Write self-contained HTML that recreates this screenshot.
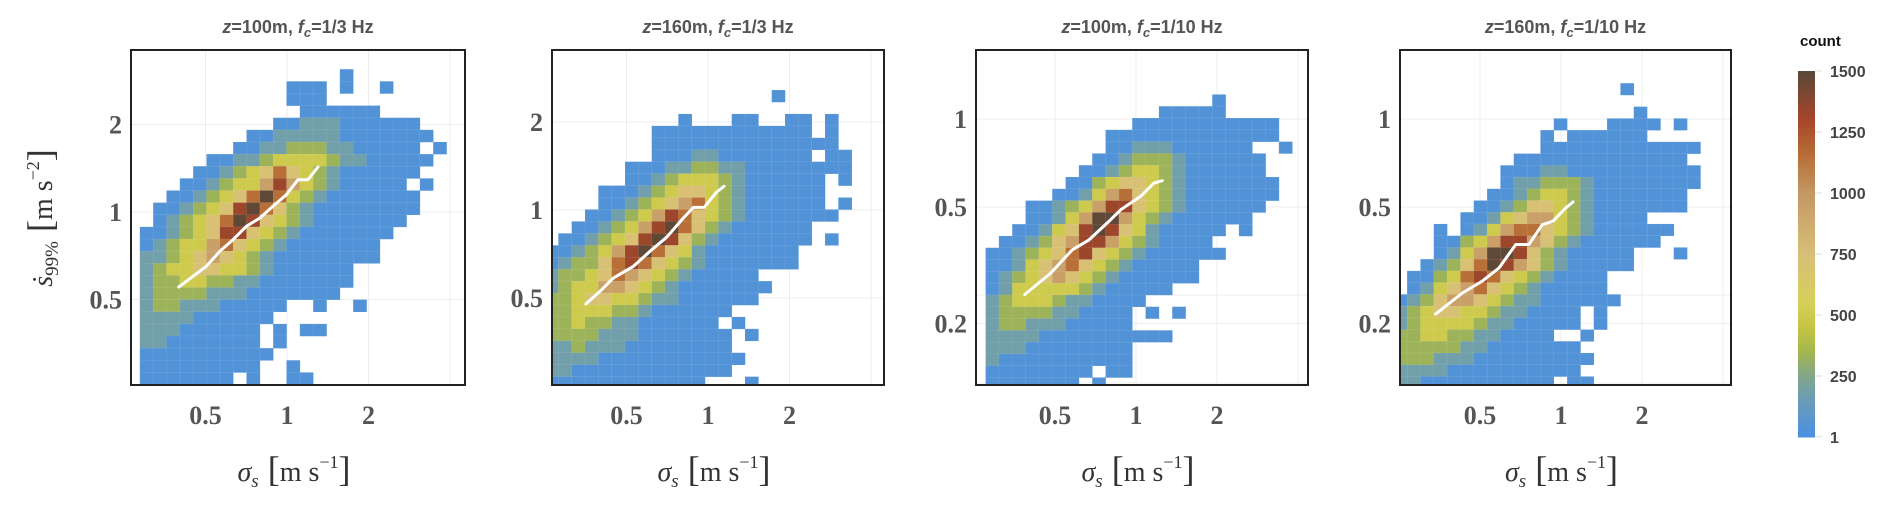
<!DOCTYPE html>
<html><head><meta charset="utf-8">
<style>
html,body{margin:0;padding:0;background:#fff;}
svg{display:block;}
</style></head>
<body>
<svg id="chart" width="1892" height="511" viewBox="0 0 1892 511" xmlns="http://www.w3.org/2000/svg">
<defs id="defs"></defs>
<g id="root"></g>
</svg>
<script>
// ---------- DATA ----------
const xTickValues = [0.5, 1, 2];
const xTickLabels = ["0.5", "1", "2"];
const yTickValuesA = [0.5, 1, 2];
const yTickLabelsA = ["0.5", "1", "2"];
const yTickValuesB = [0.2, 0.5, 1];
const yTickLabelsB = ["0.2", "0.5", "1"];
const colorbarTicks = [1, 250, 500, 750, 1000, 1250, 1500];
const levelCounts = [0, 40, 180, 330, 500, 720, 950, 1150, 1330, 1480];
const panelTitles = [["100m", "1/3 Hz"], ["160m", "1/3 Hz"], ["100m", "1/10 Hz"], ["160m", "1/10 Hz"]];

const xBinStart = [0.286, 0.25, 0.276, 0.239];
const xBinStep = [0.1636, 0.1636, 0.1646, 0.1646];
const yBinStart = [0.255, 0.245, 0.119, 0.120];
const yBinStep = [0.1386, 0.1357, 0.134, 0.1333];

const grid1 = [
"...............1........",
"...........111.1..1.....",
"...........111..........",
"............111111......",
"..........11222111111...",
"........11222221111111..",
".......11223332211111.1.",
".....11223444432211111..",
"....11234575432111111...",
"...11234468643211111.1..",
"..1123457974321111111...",
".11234589753211111111...",
".1234579854321111111....",
"1123458854321111111.....",
"123446754321111111......",
"223456543211111111......",
"2344554432111111........",
"2334433221111111........",
"233332221111111.........",
"23322211111..1..1.......",
"2222111111..............",
"222111111.1.11..........",
"221111111.1.............",
"1111111111..............",
"111111111..1............",
"1111111.1..11..........."];
const grid2 = [
".................1.....",
".......................",
"..........1...11..11.1.",
"........111111111111.1.",
"........11111111111111.",
"........111221111111.11",
"......11122332211111111.",
"......112344432111111.1",
"....11123455432111111..",
"....11234567432111111.1",
"...1123468754321111111.",
"..112346897532111111...",
".1123458985321111111.1.",
"1123468975421111111....",
"1233578754321111111....",
"2334576543211111.......",
"23446654321111111......",
"3345544322111111.......",
"33444332111111.........",
"3343322111111.1........",
"33332221111111.1.......",
"22322211111111.........",
"222211111111111........",
"22111111111111.........",
"111111111111...1......."];
const grid3 = [
".................1.....",
".............11111.....",
"...........11111111111.",
".........1111111111111.",
".........11222111111..1",
"........1123332111111..",
".......11234432111111..",
"......1134554321111111.",
".....11246754321111111.",
"...112346885432111111..",
"...11246996432111111...",
"..1124589854211111.1...",
".1123568864321111......",
"112345785432111111.....",
"1124567543211111.......",
"1234565432111111.......",
"12444443211111.........",
"234443221111...........",
"23333221111.1.1........",
"23322211111............",
"22221111111111.........",
"22211111111............",
"21111111111............",
"11111111.11............",
"1111111.1.............."];
const grid4 = [
".................1.....",
".......................",
"..................1....",
"............1...1111.1.",
"...........1.111111....",
"...........111111111111",
".........1111111111111.",
"........111221111111111",
"........122333211111111",
".......112344321111111.",
"......1123554321111111.",
".....11245664321111....",
"...1.1246775432111111..",
"...11346886532111111...",
"...124699853211111...1.",
"..1235798653211111.....",
".113478754321111.......",
".124567543211111.......",
"12356654322111111......",
"23455443221111.1.......",
"23444432211111.1.......",
"334433221111..1........",
"33333221111111.........",
"333222111111111........",
"22221111111111.........",
"221111111111.11........"];

const line1X = [0.398,0.503,0.564,0.632,0.708,0.793,0.888,0.994,1.098,1.196,1.302];
const line1Y = [0.552,0.650,0.732,0.803,0.893,0.953,1.046,1.147,1.292,1.292,1.428];
const line2X = [0.354,0.399,0.447,0.530,0.610,0.704,0.811,0.883,0.967,1.077,1.146];
const line2Y = [0.477,0.527,0.585,0.642,0.722,0.807,0.939,1.021,1.021,1.152,1.205];
const line3X = [0.386,0.482,0.580,0.669,0.782,0.877,1.041,1.166,1.253];
const line3Y = [0.251,0.297,0.357,0.386,0.441,0.489,0.544,0.604,0.615];
const line4X = [0.342,0.430,0.510,0.588,0.679,0.760,0.852,0.934,1.041,1.108];
const line4Y = [0.215,0.254,0.279,0.309,0.372,0.372,0.435,0.447,0.496,0.520];

// ---------- LAYOUT ----------
const grids = [grid1, grid2, grid3, grid4];
const linesX = [line1X, line2X, line3X, line4X];
const linesY = [line1Y, line2Y, line3Y, line4Y];
const panels = [
  {x:131, y:50, w:334, h:335, x1:287,  ox:81.5, y1:212, oy:87.5, yt:yTickValuesA, yl:yTickLabelsA},
  {x:552, y:50, w:332, h:335, x1:708,  ox:81.5, y1:210, oy:88,   yt:yTickValuesA, yl:yTickLabelsA},
  {x:976, y:50, w:332, h:335, x1:1136, ox:81,   y1:119, oy:88,   yt:yTickValuesB, yl:yTickLabelsB},
  {x:1400,y:50, w:331, h:335, x1:1561, ox:81,   y1:119, oy:88,   yt:yTickValuesB, yl:yTickLabelsB}
];
const stops = [[1,[74,144,226]],[150,[106,156,184]],[250,[130,166,138]],[350,[164,182,78]],[450,[196,196,66]],[550,[214,207,90]],[750,[216,191,120]],[1000,[196,152,100]],[1150,[184,112,56]],[1300,[168,70,42]],[1500,[88,72,56]]];
function colorOf(v){
  if(v<=stops[0][0]) return 'rgb('+stops[0][1].join(',')+')';
  for(let i=1;i<stops.length;i++){
    if(v<=stops[i][0]){
      const a=stops[i-1], b=stops[i], t=(v-a[0])/(b[0]-a[0]);
      const c=a[1].map((q,k)=>Math.round(q+(b[1][k]-q)*t));
      return 'rgb('+c.join(',')+')';
    }
  }
  return 'rgb('+stops[stops.length-1][1].join(',')+')';
}
const NS='http://www.w3.org/2000/svg';
const root=document.getElementById('root');
const defs=document.getElementById('defs');
function mk(tag, attrs, parent){
  const e=document.createElementNS(NS,tag);
  for(const k in attrs) e.setAttribute(k, attrs[k]);
  (parent||root).appendChild(e);
  return e;
}

panels.forEach((p, pi)=>{
  const xs = v => p.x1 + Math.log2(v)*p.ox;
  const ys = v => p.y1 - Math.log2(v)*p.oy;
  const g = mk('g', {});
  
  
  const cp = mk('clipPath', {id:'clip'+pi}, defs);
  mk('rect', {x:p.x, y:p.y, width:p.w, height:p.h}, cp);
  const inner = mk('g', {'clip-path':'url(#clip'+pi+')'}, g);

  [0.25,0.5,1,2,4].forEach(v=>{
    const l=mk('line',{x1:xs(v),x2:xs(v),y1:p.y,y2:p.y+p.h,stroke:'#ededed','stroke-width':1},inner);
    
    
  });
  [0.125,0.2,0.25,0.5,1,2,4].forEach(v=>{
    const l=mk('line',{x1:p.x,x2:p.x+p.w,y1:ys(v),y2:ys(v),stroke:'#ededed','stroke-width':1},inner);
    
    
  });

  const gr = grids[pi], n = gr.length;
  const hm = mk('g', {}, inner);
  
  
  gr.forEach((row, ri)=>{
    const rb = n-1-ri;
    const yLo = yBinStart[pi]*Math.pow(2, rb*yBinStep[pi]);
    const yHi = yBinStart[pi]*Math.pow(2, (rb+1)*yBinStep[pi]);
    for(let c=0;c<row.length;c++){
      const ch=row[c];
      if(ch==='.') continue;
      const cnt = levelCounts[+ch];
      const xLo = xBinStart[pi]*Math.pow(2, c*xBinStep[pi]);
      const xHi = xBinStart[pi]*Math.pow(2, (c+1)*xBinStep[pi]);
      const r = mk('rect',{x:xs(xLo), y:ys(yHi), width:xs(xHi)-xs(xLo)+0.3, height:ys(yLo)-ys(yHi)+0.3, fill:colorOf(cnt), stroke:'rgba(255,255,255,0.12)','stroke-width':0.6}, hm);
      
      
    }
  });

  const pts = linesX[pi].map((v,i)=>xs(v).toFixed(1)+','+ys(linesY[pi][i]).toFixed(1)).join(' ');
  const pl = mk('polyline',{points:pts, fill:'none', stroke:'#fff','stroke-width':3,'stroke-linejoin':'round','stroke-linecap':'round'}, inner);
  
  

  const fr = mk('rect',{x:p.x, y:p.y, width:p.w, height:p.h, fill:'none', stroke:'#222','stroke-width':2}, g);
  
  

  xTickValues.forEach((v,i)=>{
    const t=mk('text',{x:xs(v), y:424, 'text-anchor':'middle','font-family':'Liberation Serif, serif','font-weight':'bold','font-size':26, fill:'#555'}, g);
    t.textContent=xTickLabels[i];
    
    
  });
  p.yt.forEach((v,i)=>{
    const t=mk('text',{x:p.x-9, y:ys(v)+9, 'text-anchor':'end','font-family':'Liberation Serif, serif','font-weight':'bold','font-size':26, fill:'#555'}, g);
    t.textContent=p.yl[i];
    
    
  });

  const cx = p.x + p.w/2;
  const tt = mk('text',{x:cx, y:33, 'text-anchor':'middle','font-family':'Liberation Sans, sans-serif','font-weight':'bold','font-size':18, fill:'#555'}, g);
  tt.innerHTML = '<tspan font-style="italic">z</tspan>='+panelTitles[pi][0]+', <tspan font-style="italic">f</tspan><tspan font-style="italic" font-size="13" dy="4">c</tspan><tspan dy="-4">='+panelTitles[pi][1]+'</tspan>';
  
  

  const xt = mk('text',{x:cx-4, y:481, 'text-anchor':'middle','font-family':'Liberation Serif, serif','font-size':28, fill:'#333'}, g);
  xt.innerHTML = '<tspan font-style="italic">σ</tspan><tspan font-style="italic" font-size="19" dy="6">s</tspan><tspan dy="-6" font-size="36">  [</tspan><tspan>m s</tspan><tspan font-size="18" dy="-13">−1</tspan><tspan dy="13" font-size="36">]</tspan>';
  
  
});

const yt = mk('text',{x:0, y:0, transform:'translate(52,218) rotate(-90)', 'text-anchor':'middle','font-family':'Liberation Serif, serif','font-size':28, fill:'#333'});
yt.innerHTML = '<tspan font-style="italic">ṡ</tspan><tspan font-size="19" dy="6">99%</tspan><tspan dy="-6" font-size="36">  [</tspan><tspan>m s</tspan><tspan font-size="18" dy="-13">−2</tspan><tspan dy="13" font-size="36">]</tspan>';



const cb = mk('g',{});


const cbX=1798, cbW=17, cbTop=71, cbBot=437;
const cbY = v => cbBot - (v/1500)*(cbBot-cbTop);
for(let i=0;i<183;i++){
  const v0=i*1500/183, v1=(i+1)*1500/183;
  mk('rect',{x:cbX, y:cbY(v1), width:cbW, height:cbY(v0)-cbY(v1)+0.5, fill:colorOf((v0+v1)/2)}, cb);
}
colorbarTicks.forEach(v=>{
  mk('line',{x1:cbX+cbW, x2:cbX+cbW+7, y1:cbY(v), y2:cbY(v), stroke:'#ddd','stroke-width':1}, cb);
  const t=mk('text',{x:1830, y:cbY(v)+6,'font-family':'Liberation Sans, sans-serif','font-weight':'bold','font-size':16, fill:'#444'}, cb);
  t.textContent=String(v);
  
  
});
const ct=mk('text',{x:1800, y:46,'font-family':'Liberation Sans, sans-serif','font-weight':'bold','font-size':15, fill:'#111'});
ct.textContent='count';


</script>
</body></html>
